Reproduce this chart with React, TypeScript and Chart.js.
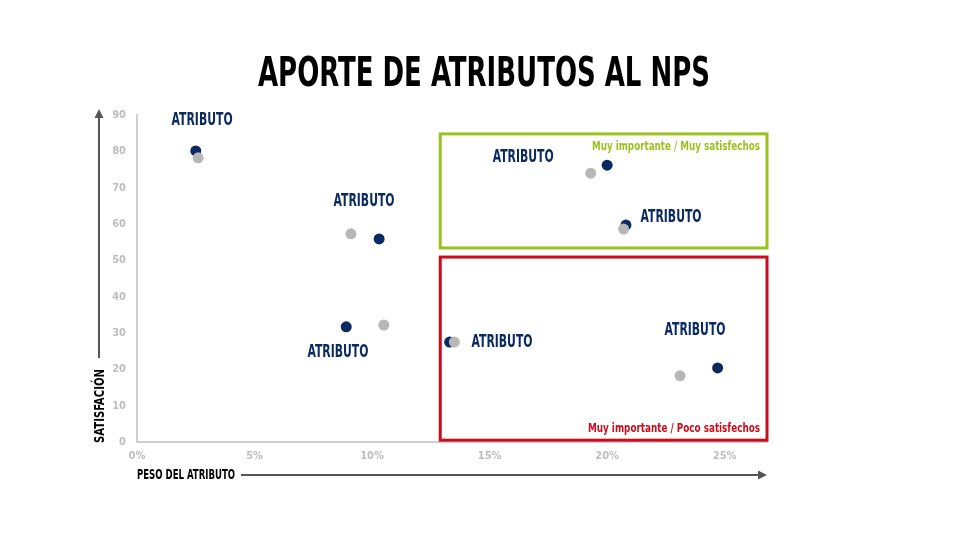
import React, { useRef, useEffect } from 'react';
import { Chart, registerables } from 'chart.js';

Chart.register(...registerables);

const FONT = "'Liberation Sans Narrow', 'DejaVu Sans Condensed', 'Noto Sans', sans-serif";

// Chart values
const TITLE = 'APORTE DE ATRIBUTOS AL NPS';
const X_TITLE = 'PESO DEL ATRIBUTO';
const Y_TITLE = 'SATISFACIÓN';
const LABEL = 'ATRIBUTO';

// weight (%) and satisfaction, current period (navy) and previous (gray)
const currentX = [2.5, 10.3, 8.9, 13.3, 20.0, 20.8, 24.7];
const currentY = [80.1, 55.9, 31.7, 27.5, 76.2, 59.7, 20.4];
const previousX = [2.6, 9.1, 10.5, 13.5, 19.3, 20.7, 23.1];
const previousY = [78.2, 57.3, 32.2, 27.5, 74.0, 58.6, 18.2];

// attribute label anchors (data units)
const labelX = [2.77, 9.66, 8.55, 15.53, 16.43, 22.72, 23.74];
const labelY = [88.6, 66.1, 24.5, 27.5, 78.4, 61.7, 30.6];

const xTicks = [0, 5, 10, 15, 20, 25];
const yTicks = [0, 10, 20, 30, 40, 50, 60, 70, 80, 90];

// quadrant regions (data units)
const quadrantX = [12.9, 26.8];
const goodY = [53.4, 84.8];
const badY = [0.5, 50.9];
const GOOD_TEXT = 'Muy importante / Muy satisfechos';
const BAD_TEXT = 'Muy importante / Poco satisfechos';

const NAVY = '#0c2a62';
const GRAY = '#b7b7b7';
const GREEN = '#9cc11f';
const RED = '#cc0c1c';

const fitText = (
  ctx: CanvasRenderingContext2D, text: string, x: number, y: number,
  w: number, size: number, color: string, align: CanvasTextAlign = 'center'
) => {
  ctx.save();
  ctx.font = `bold ${size}px ${FONT}`;
  const m = ctx.measureText(text).width;
  ctx.translate(x, y);
  ctx.scale(w / m, 1);
  ctx.textAlign = align;
  ctx.textBaseline = 'middle';
  ctx.fillStyle = color;
  ctx.fillText(text, 0, 0);
  ctx.restore();
};

const decorPlugin = {
  id: 'decor',
  beforeDatasetsDraw(chart: any) {
    const { ctx, scales } = chart;
    const xs = scales.x, ys = scales.y;
    const box = (yr: number[], color: string) => {
      const l = xs.getPixelForValue(quadrantX[0]);
      const r = xs.getPixelForValue(quadrantX[1]);
      const t = ys.getPixelForValue(yr[1]);
      const b = ys.getPixelForValue(yr[0]);
      ctx.save();
      ctx.strokeStyle = color;
      ctx.lineWidth = 3;
      ctx.strokeRect(l, t, r - l, b - t);
      ctx.restore();
    };
    box(goodY, GREEN);
    box(badY, RED);
  },
  afterDatasetsDraw(chart: any) {
    const { ctx, scales, chartArea } = chart;
    const xs = scales.x, ys = scales.y;

    // title
    fitText(ctx, TITLE, 484, 76, 452, 40, '#000');

    // attribute labels
    labelX.forEach((v, i) => {
      fitText(ctx, LABEL, xs.getPixelForValue(v), ys.getPixelForValue(labelY[i]), 61, 17, NAVY);
    });

    // quadrant captions
    const right = xs.getPixelForValue(quadrantX[1]) - 7;
    fitText(ctx, GOOD_TEXT, right, ys.getPixelForValue(goodY[1]) + 13, 168, 13, GREEN, 'right');
    fitText(ctx, BAD_TEXT, right, ys.getPixelForValue(badY[0]) - 12, 172, 13, RED, 'right');

    // axis titles and arrows
    ctx.save();
    ctx.strokeStyle = '#555';
    ctx.fillStyle = '#555';
    ctx.lineWidth = 2;
    const ay = 475;
    ctx.beginPath();
    ctx.moveTo(241, ay);
    ctx.lineTo(chartArea.right - 6, ay);
    ctx.stroke();
    ctx.beginPath();
    ctx.moveTo(chartArea.right, ay);
    ctx.lineTo(chartArea.right - 9, ay - 4.5);
    ctx.lineTo(chartArea.right - 9, ay + 4.5);
    ctx.closePath();
    ctx.fill();

    const ax = 99;
    ctx.beginPath();
    ctx.moveTo(ax, 358);
    ctx.lineTo(ax, 116);
    ctx.stroke();
    ctx.beginPath();
    ctx.moveTo(ax, 109);
    ctx.lineTo(ax - 4.5, 118);
    ctx.lineTo(ax + 4.5, 118);
    ctx.closePath();
    ctx.fill();
    ctx.restore();

    fitText(ctx, X_TITLE, 137, ay, 98, 14, '#000', 'left');

    ctx.save();
    ctx.translate(ax + 1, 406);
    ctx.rotate(-Math.PI / 2);
    fitText(ctx, Y_TITLE, 0, 0, 74, 14, '#000');
    ctx.restore();
  },
};

const App: React.FC = () => {
  const canvasRef = useRef<HTMLCanvasElement>(null);
  const chartRef = useRef<Chart | null>(null);

  useEffect(() => {
    document.body.style.margin = '0';
    if (!canvasRef.current) return;
    const ctx = canvasRef.current.getContext('2d');
    if (!ctx) return;

    const tickFont = { family: FONT, size: 11, weight: 'bold' as const };

    chartRef.current = new Chart(ctx, {
      type: 'scatter',
      data: {
        datasets: [
          {
            label: 'Anterior',
            data: previousX.map((x, i) => ({ x, y: previousY[i] })),
            backgroundColor: GRAY,
            borderColor: GRAY,
            pointRadius: 5.5,
            borderWidth: 0,
          },
          {
            label: 'Actual',
            data: currentX.map((x, i) => ({ x, y: currentY[i] })),
            backgroundColor: NAVY,
            borderColor: NAVY,
            pointRadius: 5.5,
            borderWidth: 0,
          },
        ],
      },
      options: {
        responsive: false,
        animation: false,
        layout: { padding: { top: 115, right: 202, bottom: 73, left: 0 } },
        plugins: {
          legend: { display: false },
          title: { display: false },
          tooltip: { enabled: false },
        },
        scales: {
          x: {
            type: 'linear',
            min: 0,
            max: quadrantX[1],
            afterFit: (s: any) => { s.height = 30; },
            afterBuildTicks: (s: any) => { s.ticks = xTicks.map(v => ({ value: v })); },
            grid: { display: false, drawTicks: false },
            border: { display: true, color: '#cfcfcf', width: 2 },
            ticks: {
              padding: 8,
              color: '#bdbdbd',
              font: tickFont,
              callback: (v: any) => `${v}%`,
            },
          },
          y: {
            type: 'linear',
            min: 0,
            max: 90,
            afterFit: (s: any) => { s.width = 137; },
            afterBuildTicks: (s: any) => { s.ticks = yTicks.map(v => ({ value: v })); },
            grid: { display: false, drawTicks: false },
            border: { display: true, color: '#cfcfcf', width: 2 },
            ticks: {
              padding: 11,
              color: '#bdbdbd',
              font: tickFont,
            },
          },
        },
      },
      plugins: [decorPlugin],
    });

    return () => {
      if (chartRef.current) {
        chartRef.current.destroy();
      }
    };
  }, []);

  return (
    <div style={{ width: 969, height: 545, background: '#fff' }}>
      <canvas ref={canvasRef} width={969} height={545}></canvas>
    </div>
  );
};

export default App;
